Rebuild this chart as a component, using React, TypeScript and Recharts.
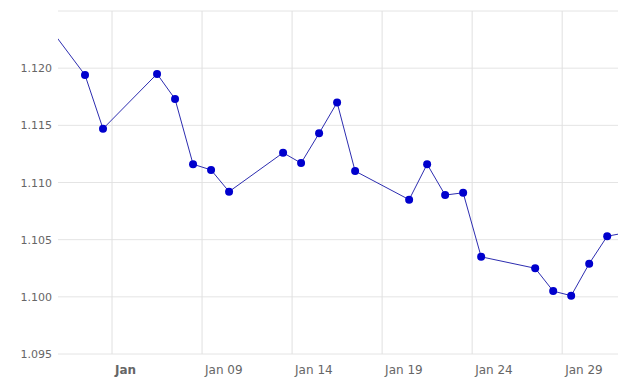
import React from 'react';
import { LineChart, Line, XAxis, YAxis, ReferenceLine } from 'recharts';

// trading days (day of January, Dec 31 = 0, Feb 3 = 34)
const days = [0, 2, 3, 6, 7, 8, 9, 10, 13, 14, 15, 16, 17, 20, 21, 22, 23, 24, 27, 28, 29, 30, 31, 34];
const rates = [
  1.1236, 1.1194, 1.1147, 1.1195, 1.1173, 1.1116, 1.1111, 1.1092, 1.1126, 1.1117, 1.1143, 1.1170,
  1.1110, 1.1085, 1.1116, 1.1089, 1.1091, 1.1035, 1.1025, 1.1005, 1.1001, 1.1029, 1.1053, 1.1062,
];

const xTicks = [4, 9, 14, 19, 24, 29];
const xTickLabels = ['Jan', 'Jan 09', 'Jan 14', 'Jan 19', 'Jan 24', 'Jan 29'];
const yTicks = [1.095, 1.1, 1.105, 1.11, 1.115, 1.12, 1.125];

// points sit at midday of their date
const data = days.map((d, i) => ({ t: d + 0.5, rate: rates[i] }));

const XTick = (props: any) => {
  const { x, y, index } = props;
  return (
    <text
      x={x + 3}
      y={y + 20}
      textAnchor="start"
      fill="#666"
      fontSize={12}
      fontWeight={index === 0 ? 'bold' : 'normal'}
      fontFamily="DejaVu Sans, Verdana, sans-serif"
    >
      {xTickLabels[index]}
    </text>
  );
};

const YTick = (props: any) => {
  const { x, y, payload } = props;
  if (payload.value > 1.1225) return null;
  return (
    <text
      x={x}
      y={y + 4}
      textAnchor="end"
      fill="#666"
      fontSize={11}
      fontFamily="DejaVu Sans, Verdana, sans-serif"
    >
      {payload.value.toFixed(3)}
    </text>
  );
};

export default function App() {
  return (
    <div style={{ position: 'absolute', left: 0, top: 0, background: '#fff' }}>
      <LineChart width={633} height={380} data={data} margin={{ top: 11, right: 15, bottom: 0, left: 0 }}>
        {yTicks.map((v) => (
          <ReferenceLine key={'h' + v} y={v} stroke="#e4e4e4" strokeWidth={1} />
        ))}
        {xTicks.map((t) => (
          <ReferenceLine key={'v' + t} x={t} stroke="#e0e0e0" strokeWidth={1} />
        ))}
        <XAxis
          dataKey="t"
          type="number"
          domain={[1, 32.1]}
          allowDataOverflow
          ticks={xTicks}
          tick={<XTick />}
          tickLine={false}
          axisLine={false}
          tickSize={0}
          tickMargin={0}
          height={26}
          interval={0}
        />
        <YAxis
          type="number"
          domain={[1.095, 1.125]}
          allowDataOverflow
          ticks={yTicks}
          tick={<YTick />}
          tickLine={false}
          axisLine={false}
          tickSize={0}
          tickMargin={6}
          width={58}
          interval={0}
        />
        <Line
          dataKey="rate"
          type="linear"
          stroke="#2d2db0"
          strokeWidth={1}
          dot={{ r: 4, fill: '#0000cd', stroke: 'none' }}
          activeDot={false}
          isAnimationActive={false}
        />
      </LineChart>
    </div>
  );
}
